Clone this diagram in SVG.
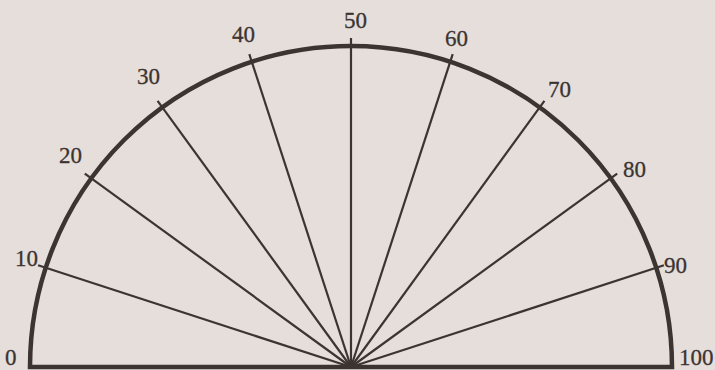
<svg xmlns="http://www.w3.org/2000/svg" width="715" height="370" viewBox="0 0 715 370">
  <style>
    .bg { fill: #e6dedb; }
    .rim { fill: none; stroke: #3b3431; stroke-width: 4.5; stroke-linejoin: miter; }
    .ray { stroke: #3b3431; stroke-width: 2.2; stroke-linecap: butt; }
    .lbl { font-family: "Liberation Serif", "Times New Roman", serif; font-size: 23px; fill: #3b3431; stroke: #3b3431; stroke-width: 0.3; }
  </style>
  <rect class="bg" x="0" y="0" width="715" height="370"/>
  <g id="rays">
    <line class="ray" x1="351" y1="367" x2="38.1" y2="265.3"/>
    <line class="ray" x1="351" y1="367" x2="84.8" y2="173.6"/>
    <line class="ray" x1="351" y1="367" x2="157.6" y2="100.8"/>
    <line class="ray" x1="351" y1="367" x2="249.3" y2="54.1"/>
    <line class="ray" x1="351" y1="367" x2="351" y2="38"/>
    <line class="ray" x1="351" y1="367" x2="452.7" y2="54.1"/>
    <line class="ray" x1="351" y1="367" x2="544.4" y2="100.8"/>
    <line class="ray" x1="351" y1="367" x2="617.2" y2="173.6"/>
    <line class="ray" x1="351" y1="367" x2="663.9" y2="265.3"/>
  </g>
  <g id="semicircle">
    <path class="rim" d="M 672 367 H 30 A 321 321 0 0 1 672 367 Z"/>
  </g>
  <g id="labels">
    <text class="lbl" x="5" y="365">0</text>
    <text class="lbl" x="15" y="266">10</text>
    <text class="lbl" x="59" y="163">20</text>
    <text class="lbl" x="137" y="84">30</text>
    <text class="lbl" x="232" y="42">40</text>
    <text class="lbl" x="344" y="28">50</text>
    <text class="lbl" x="445" y="46">60</text>
    <text class="lbl" x="548" y="97">70</text>
    <text class="lbl" x="623" y="177">80</text>
    <text class="lbl" x="664" y="273">90</text>
    <text class="lbl" x="679" y="365">100</text>
  </g>
</svg>
